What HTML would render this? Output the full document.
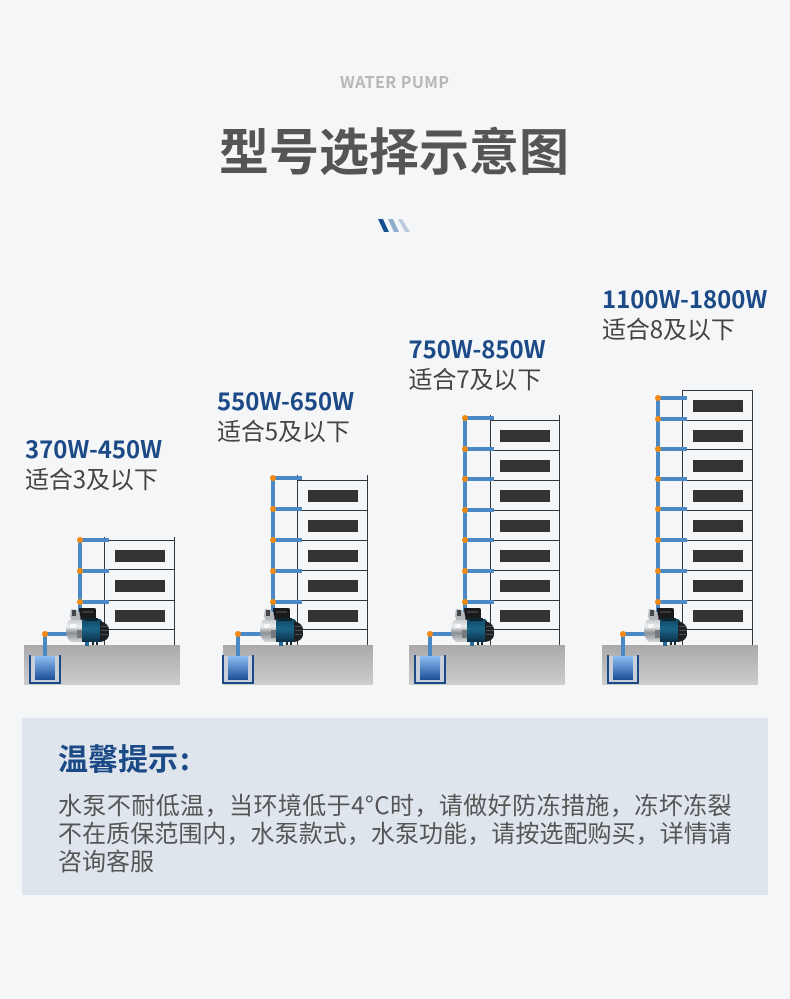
<!DOCTYPE html>
<html><head><meta charset="utf-8">
<style>
html,body{margin:0;padding:0}
body{width:790px;height:999px;background:#f4f6f8;position:relative;overflow:hidden;font-family:"Noto Sans CJK SC","Liberation Sans",sans-serif}
.t{position:absolute;white-space:nowrap;line-height:1}
.w{font-size:24px;font-weight:700;color:#1c4a86;letter-spacing:-.05px}
.s{font-size:24px;color:#444;letter-spacing:-.1px}
</style></head><body>
<svg width="790" height="999" style="position:absolute;left:0;top:0">
<defs>
<linearGradient id="g" x1="0" y1="0" x2="0" y2="1"><stop offset="0" stop-color="#a9a9a9"/><stop offset="1" stop-color="#cdcdcd"/></linearGradient>
<linearGradient id="wa" x1="0" y1="0" x2="0" y2="1"><stop offset="0" stop-color="#90c0f4"/><stop offset="1" stop-color="#1c4f98"/></linearGradient>
<linearGradient id="si" x1="0" y1="0" x2="0" y2="1"><stop offset="0" stop-color="#c9cbce"/><stop offset=".3" stop-color="#eceded"/><stop offset=".6" stop-color="#8a8f94"/><stop offset="1" stop-color="#d5d6d8"/></linearGradient>
<linearGradient id="mo" x1="0" y1="0" x2="0" y2="1"><stop offset="0" stop-color="#0f4763"/><stop offset=".45" stop-color="#1a6587"/><stop offset="1" stop-color="#0a3047"/></linearGradient>
<g id="base">
<rect x="29" y="655" width="2" height="29" fill="#1c4a86"/><rect x="59" y="655" width="2" height="29" fill="#1c4a86"/><rect x="29" y="682" width="32" height="2" fill="#1c4a86"/>
<rect x="31" y="656" width="28" height="26" fill="#c9cfd8"/>
<rect x="35" y="656" width="20" height="24" fill="url(#wa)"/>
<path d="M45 656V634H68" fill="none" stroke="#4a88c6" stroke-width="4"/>
<circle cx="45" cy="634" r="3" fill="#f08a12"/>
</g>
<g id="pump">
<rect x="85" y="640" width="4" height="6" fill="#2a6a9a"/>
<rect x="92" y="641" width="2" height="4" fill="#1a2a30"/><rect x="96" y="641" width="2" height="4" fill="#1a2a30"/>
<path d="M79 608h15q2 0 2 2v8l-2 2H80z" fill="#1a1a1c"/>
<rect x="82" y="611" width="11" height="2" fill="#3a3a3c"/>
<path d="M71 609l6 1 3 5 1 7h-9l-2-6z" fill="#b4b8bc"/>
<rect x="72" y="610" width="4" height="6" fill="#45474a"/>
<path d="M69 620h14v22H71q-5-4-5-11t3-11z" fill="url(#si)"/>
<path d="M70 624h6v4h-6z" fill="#f7f7f7"/><path d="M77 630h5v8h-5z" fill="#75797d"/>
<path d="M82 619h18q2 1 2 3v18q0 2-2 2H82z" fill="url(#mo)"/>
<path d="M100 621q8 2 9 8v6q-1 6-9 7z" fill="#1b2024"/>
<path d="M101 626h7v1h-7zM101 630h8v1h-8zM101 634h7v1h-7z" fill="#4a5054"/>
<rect x="84" y="618" width="14" height="3" fill="#0e2530"/>
</g>
</defs>
<!-- decoration -->
<path d="M378 219h5l6 13h-5z" fill="#124f93"/><path d="M388 219h5l6 13h-5z" fill="#8dabcc"/><path d="M398 219h4l8 13h-5z" fill="#bccbdc"/>
<!-- grounds -->
<rect x="24" y="645" width="156" height="40" fill="url(#g)"/>
<rect x="223" y="645" width="150" height="40" fill="url(#g)"/>
<rect x="409" y="645" width="156" height="40" fill="url(#g)"/>
<rect x="602" y="645" width="156" height="40" fill="url(#g)"/>
<use href="#base"/>
<g transform="translate(193 0)"><use href="#base"/></g>
<g transform="translate(385 0)"><use href="#base"/></g>
<g transform="translate(578 0)"><use href="#base"/></g>

<!-- buildings -->
<g fill="none" stroke="#33363b" stroke-width="1">
<path d="M104.500 537V645M174.500 537V645M104 540.500H175M104 569.500H175M104 600.500H175M104 629.500H175"/>
<path d="M297.500 475V645M367.500 475V645M297 480.500H368M297 510.500H368M297 540.500H368M297 570.500H368M297 600.500H368M297 629.500H368"/>
<path d="M490.500 415V645M559.500 415V645M490 420.500H560M490 450.500H560M490 480.500H560M490 510.500H560M490 540.500H560M490 570.500H560M490 600.500H560M490 629.500H560"/>
<path d="M682.500 390.500V645M752.500 390.500V645M682 390.500H753M682 420.500H753M682 449.500H753M682 480.500H753M682 510.500H753M682 540.500H753M682 570.500H753M682 600.500H753M682 629.500H753"/>
</g>
<g fill="#333336">
<rect x="115" y="550" width="50" height="12"/><rect x="115" y="580" width="50" height="12"/><rect x="115" y="610" width="50" height="12"/>
<rect x="308" y="490" width="50" height="12"/><rect x="308" y="520" width="50" height="12"/><rect x="308" y="550" width="50" height="12"/><rect x="308" y="580" width="50" height="12"/><rect x="308" y="610" width="50" height="12"/>
<rect x="500" y="430" width="50" height="12"/><rect x="500" y="460" width="50" height="12"/><rect x="500" y="490" width="50" height="12"/><rect x="500" y="520" width="50" height="12"/><rect x="500" y="550" width="50" height="12"/><rect x="500" y="580" width="50" height="12"/><rect x="500" y="610" width="50" height="12"/>
<rect x="693" y="400" width="50" height="12"/><rect x="693" y="430" width="50" height="12"/><rect x="693" y="460" width="50" height="12"/><rect x="693" y="490" width="50" height="12"/><rect x="693" y="520" width="50" height="12"/><rect x="693" y="550" width="50" height="12"/><rect x="693" y="580" width="50" height="12"/><rect x="693" y="610" width="50" height="12"/>
</g>
<!-- pipes -->
<g fill="none" stroke="#4a88c6" stroke-width="4">
<path d="M80 540V612M80 540H109M80 571H109M80 602H109"/>
<path d="M273 478V612M273 478H302M273 509H302M273 540H302M273 571H302M273 602H302"/>
<path d="M465 418V612M465 418H494M465 449H494M465 479H494M465 510H494M465 540H494M465 571H494M465 602H494"/>
<path d="M658 398V612M658 398H687M658 419H687M658 449H687M658 479H687M658 509H687M658 540H687M658 571H687M658 602H687"/>
</g>
<g fill="#f08a12">
<circle cx="80" cy="540" r="3"/><circle cx="80" cy="571" r="3"/><circle cx="80" cy="602" r="3"/>
<circle cx="273" cy="478" r="3"/><circle cx="273" cy="509" r="3"/><circle cx="273" cy="540" r="3"/><circle cx="273" cy="571" r="3"/><circle cx="273" cy="602" r="3"/>
<circle cx="465" cy="418" r="3"/><circle cx="465" cy="449" r="3"/><circle cx="465" cy="479" r="3"/><circle cx="465" cy="510" r="3"/><circle cx="465" cy="540" r="3"/><circle cx="465" cy="571" r="3"/><circle cx="465" cy="602" r="3"/>
<circle cx="658" cy="398" r="3"/><circle cx="658" cy="419" r="3"/><circle cx="658" cy="449" r="3"/><circle cx="658" cy="479" r="3"/><circle cx="658" cy="509" r="3"/><circle cx="658" cy="540" r="3"/><circle cx="658" cy="571" r="3"/><circle cx="658" cy="602" r="3"/>
</g>
<use href="#pump"/>
<g transform="translate(194 0)"><use href="#pump"/></g>
<g transform="translate(385 0)"><use href="#pump"/></g>
<g transform="translate(578 0)"><use href="#pump"/></g>
<rect x="22" y="718" width="746" height="177" fill="#dee5ed"/>
</svg>

<div class="t" style="left:340px;top:72.500px;font-size:16px;font-weight:700;color:#b8b8b8;letter-spacing:.45px">WATER PUMP</div>
<div class="t" style="left:219px;top:124px;font-size:50px;font-weight:700;color:#555">型号选择示意图</div>

<div class="t w" style="left:25px;top:436px">370W-450W</div>
<div class="t s" style="left:25px;top:466px">适合3及以下</div>
<div class="t w" style="left:217px;top:388px">550W-650W</div>
<div class="t s" style="left:217px;top:418px">适合5及以下</div>
<div class="t w" style="left:408.500px;top:336px">750W-850W</div>
<div class="t s" style="left:408.500px;top:366px">适合7及以下</div>
<div class="t w" style="left:602px;top:286px">1100W-1800W</div>
<div class="t s" style="left:602px;top:316px">适合8及以下</div>

<div class="t" style="left:58px;top:742px;font-size:30px;font-weight:700;color:#1c4a86">温馨提示<span style="margin-left:2px">:</span></div>
<div class="t" style="left:58px;top:790px;font-size:24px;line-height:28px;color:#555"><span style="letter-spacing:.43px">水泵不耐低温&#xFF0C;当环境低于4°C时&#xFF0C;请做好防冻措施&#xFF0C;冻坏冻裂</span><br><span style="letter-spacing:.07px">不在质保范围内&#xFF0C;水泵款式&#xFF0C;水泵功能&#xFF0C;请按选配购买&#xFF0C;详情请</span><br>咨询客服</div>
</body></html>
